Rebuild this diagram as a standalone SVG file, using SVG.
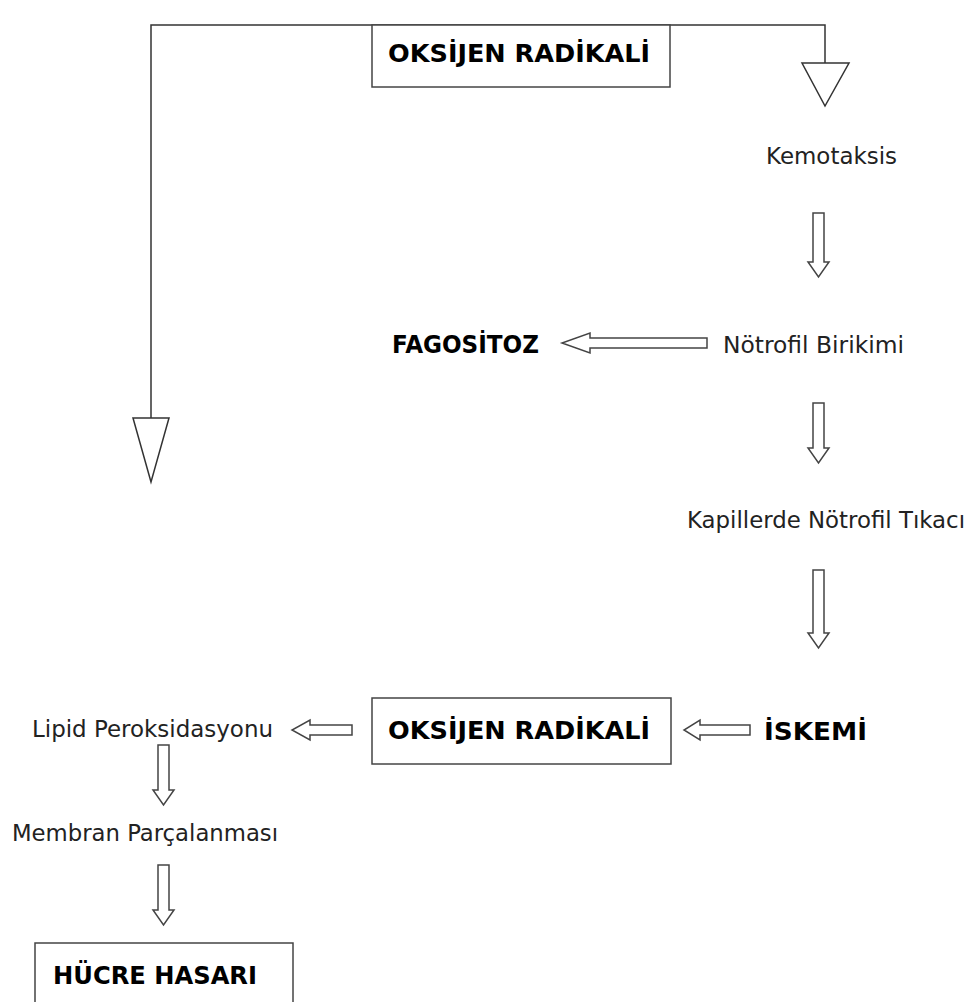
<svg xmlns="http://www.w3.org/2000/svg" width="975" height="1002" viewBox="0 0 975 1002">
<style>
.ln{fill:none;stroke:#333;stroke-width:1.5}
.tri{fill:#fff;stroke:#333;stroke-width:1.5;stroke-linejoin:miter}
.blk{fill:#fff;stroke:#444;stroke-width:1.5;stroke-linejoin:miter}
.box{fill:#fff;stroke:#444;stroke-width:1.5}
.t{font-family:"DejaVu Sans",Verdana,sans-serif;font-size:23px;fill:#222}
.b{font-family:"DejaVu Sans",Verdana,sans-serif;font-size:25px;font-weight:bold;fill:#000}
</style>
<rect width="975" height="1002" fill="#fff"/>
<g id="connectors">
<polyline class="ln" points="151,418 151,25 825,25 825,63"/>
<polygon class="tri" points="133,418 169,418 151,482"/>
<polygon class="tri" points="802,63 849,63 825,106"/>
<polygon class="blk" points="813,213 824,213 824,262 829,262 818.5,277 808,262 813,262"/>
<polygon class="blk" points="813,403 824,403 824,448 829,448 818.5,463 808,448 813,448"/>
<polygon class="blk" points="813,570 824,570 824,633 829,633 818.5,648 808,633 813,633"/>
<polygon class="blk" points="707,338 707,348 590,348 590,353 562,343 590,333 590,338"/>
<polygon class="blk" points="750,725 750,735 700,735 700,740 684,730 700,720 700,725"/>
<polygon class="blk" points="352,725 352,735 310,735 310,740 292,730 310,720 310,725"/>
<polygon class="blk" points="158,745 169,745 169,790 174,790 163.5,805 153,790 158,790"/>
<polygon class="blk" points="158,865 169,865 169,910 174,910 163.5,925 153,910 158,910"/>
</g>
<g id="top-radikal">
<rect class="box" x="372" y="25" width="298" height="62"/>
<text class="b" x="388" y="62" textLength="262" lengthAdjust="spacingAndGlyphs">OKSİJEN RADİKALİ</text>
</g>
<g id="kemotaksis"><text class="t" x="766" y="164" textLength="131" lengthAdjust="spacingAndGlyphs">Kemotaksis</text></g>
<g id="fagositoz"><text class="b" x="392" y="353" textLength="147" lengthAdjust="spacingAndGlyphs">FAGOSİTOZ</text></g>
<g id="notrofil-birikimi"><text class="t" x="723" y="353" textLength="181" lengthAdjust="spacingAndGlyphs">Nötrofil Birikimi</text></g>
<g id="kapiller"><text class="t" x="687" y="528" textLength="278" lengthAdjust="spacingAndGlyphs">Kapillerde Nötrofil Tıkacı</text></g>
<g id="mid-radikal">
<rect class="box" x="372" y="698" width="299" height="66"/>
<text class="b" x="388" y="739" textLength="262" lengthAdjust="spacingAndGlyphs">OKSİJEN RADİKALİ</text>
</g>
<g id="iskemi"><text class="b" x="764" y="740" textLength="103" lengthAdjust="spacingAndGlyphs">İSKEMİ</text></g>
<g id="lipid"><text class="t" x="32" y="737" textLength="241" lengthAdjust="spacingAndGlyphs">Lipid Peroksidasyonu</text></g>
<g id="membran"><text class="t" x="12" y="841" textLength="266" lengthAdjust="spacingAndGlyphs">Membran Parçalanması</text></g>
<g id="hucre-hasari">
<rect class="box" x="35" y="943" width="258" height="75"/>
<text class="b" x="53" y="984" textLength="204" lengthAdjust="spacingAndGlyphs">HÜCRE HASARI</text>
</g>
</svg>
